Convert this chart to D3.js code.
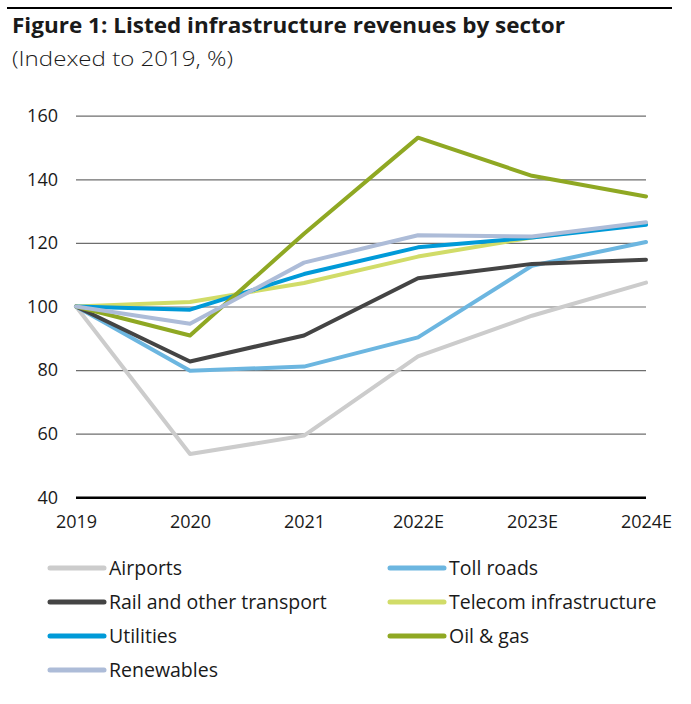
<!DOCTYPE html>
<html>
<head>
<meta charset="utf-8">
<script src="https://cdn.jsdelivr.net/npm/d3@7"></script>
<style>
  body { margin: 0; background: #fff; }
  text { font-family: "Open Sans", "Noto Sans", sans-serif; fill: #1a1a1a; }
</style>
</head>
<body>
<script>
const w = 691;
const h = 704;

const years = ["2019", "2020", "2021", "2022E", "2023E", "2024E"];
const yTicks = [40, 60, 80, 100, 120, 140, 160];

const airports   = [100, 53.6, 59.4, 84.3, 97.1, 107.5];
const tollRoads  = [100, 79.8, 81.1, 90.3, 112.8, 120.3];
const rail       = [100, 82.7, 90.9, 108.9, 113.4, 114.7];
const telecom    = [100, 101.4, 107.4, 115.7, 121.7, 126.2];
const utilities  = [100, 99.0, 110.2, 118.6, 121.7, 125.7];
const oilGas     = [100, 90.9, 122.9, 153.1, 141.1, 134.6];
const renewables = [100, 94.6, 113.8, 122.4, 122.0, 126.5];

const series = [
  {name: "Airports", values: airports, color: "#cccccc"},
  {name: "Toll roads", values: tollRoads, color: "#6cb6e0"},
  {name: "Rail and other transport", values: rail, color: "#444444"},
  {name: "Telecom infrastructure", values: telecom, color: "#d1dc68"},
  {name: "Utilities", values: utilities, color: "#009ad8"},
  {name: "Oil & gas", values: oilGas, color: "#8fa823"},
  {name: "Renewables", values: renewables, color: "#adbcd8"}
];

const xScale = d3.scalePoint()
                 .domain(years)
                 .range([76, 646]);

const yScale = d3.scaleLinear()
                 .domain([40, 160])
                 .range([497.3, 115.7]);

const svg = d3.select("body")
              .append("svg")
              .attr("width", w)
              .attr("height", h);

// header
svg.append("line")
   .attr("x1", 7).attr("x2", 672)
   .attr("y1", 8).attr("y2", 8)
   .attr("stroke", "#000")
   .attr("stroke-width", 2);

svg.append("text")
   .text("Figure 1: Listed infrastructure revenues by sector")
   .attr("x", 12)
   .attr("y", 33)
   .attr("font-size", "21px")
   .attr("font-weight", "bold")
   .attr("textLength", 553)
   .attr("lengthAdjust", "spacingAndGlyphs");

svg.append("text")
   .text("(Indexed to 2019, %)")
   .attr("x", 12)
   .attr("y", 66)
   .attr("font-size", "20px")
   .attr("font-weight", 300)
   .attr("textLength", 221)
   .attr("lengthAdjust", "spacingAndGlyphs");

// grid + y labels
const yAxis = d3.axisLeft(yScale)
                .tickValues(yTicks)
                .tickSize(-(646 - 76))
                .tickPadding(18);

const gy = svg.append("g")
              .attr("transform", "translate(76,0)")
              .call(yAxis);
gy.select(".domain").remove();
gy.selectAll(".tick line")
  .attr("stroke", (d) => d == 40 ? "#000" : "#6e6e6e")
  .attr("stroke-width", (d) => d == 40 ? 2.5 : 1.2);
gy.selectAll(".tick text")
  .attr("font-size", "18px")
  .attr("font-family", "'Open Sans', 'Noto Sans', sans-serif")
  .attr("fill", "#1a1a1a");

// x labels
const xAxis = d3.axisBottom(xScale)
                .tickSize(0)
                .tickPadding(18);

const gx = svg.append("g")
              .attr("transform", "translate(0,497.3)")
              .call(xAxis);
gx.select(".domain").remove();
gx.selectAll(".tick text")
  .attr("font-size", "18px")
  .attr("font-family", "'Open Sans', 'Noto Sans', sans-serif")
  .attr("fill", "#1a1a1a");

// lines
const line = d3.line()
               .x((d, i) => xScale(years[i]))
               .y((d) => yScale(d));

svg.selectAll(".series")
   .data(series)
   .enter()
   .append("path")
   .attr("class", "series")
   .attr("d", (d) => line(d.values))
   .attr("fill", "none")
   .attr("stroke", (d) => d.color)
   .attr("stroke-width", 4)
   .attr("stroke-linejoin", "round")
   .attr("stroke-linecap", "round");

// legend, two columns
const legend = svg.selectAll(".legend")
                  .data(series)
                  .enter()
                  .append("g")
                  .attr("class", "legend")
                  .attr("transform", (d, i) => "translate(" + (i % 2 == 0 ? 50 : 390) + "," + (568 + Math.floor(i / 2) * 34) + ")");

legend.append("line")
      .attr("x1", 0).attr("x2", 54)
      .attr("y1", 0).attr("y2", 0)
      .attr("stroke", (d) => d.color)
      .attr("stroke-width", 5)
      .attr("stroke-linecap", "round");

legend.append("text")
      .text((d) => d.name)
      .attr("x", 59)
      .attr("y", 7)
      .attr("font-size", "19.5px");
</script>
</body>
</html>
